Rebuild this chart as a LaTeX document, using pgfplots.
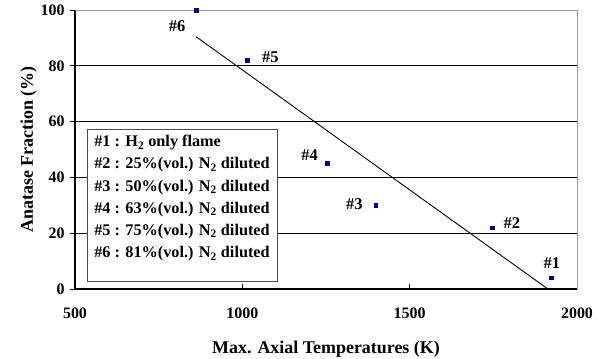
\documentclass[border=0pt]{standalone}
\usepackage{pgfplots}
\pgfplotsset{compat=1.18}
\usepackage{fontspec}
\setmainfont{Liberation Serif}
\definecolor{navy}{RGB}{0,0,128}
\begin{document}
\begin{tikzpicture}[x=1bp,y=1bp]
\path[use as bounding box] (0,0) rectangle (607,358);
\begin{axis}[
  at={(75bp,69bp)}, anchor=south west,
  scale only axis, width=502bp, height=279bp,
  xmin=500, xmax=2000, ymin=0, ymax=100,
  axis x line*=bottom, axis y line*=left,
  axis line style={black, line width=1.1pt, -},
  xtick={500,1000,1500,2000}, ytick={0,20,40,60,80,100},
  x tick label style={font=\bfseries\fontsize{16}{18}\selectfont, yshift=-15bp},
  y tick label style={font=\bfseries\fontsize{16}{18}\selectfont, xshift=-2bp},
  /pgf/number format/assume math mode=true,
  /pgf/number format/set thousands separator={},
  xtick align=inside, ytick align=outside,
  major tick length=5bp,
  tick style={black, line width=0.8pt},
  ymajorgrids, major grid style={black, line width=0.6pt},
  xlabel={Max. Axial Temperatures (K)},
  ylabel={Anatase Fraction (\%)},
  label style={font=\bfseries\fontsize{18}{20}\selectfont},
  xlabel style={yshift=-16bp},
  ylabel style={yshift=-3bp},
  clip=false,
]
\draw[gray!80, line width=0.6pt] (axis cs:500,100) -- (axis cs:2000,100) -- (axis cs:2000,0);
\addplot[only marks, mark=square*, mark size=1.8bp, navy] coordinates {
 (862,100) (1015,82) (1254,45) (1398,30) (1746,22) (1922,4)
};
\addplot[black, line width=0.9pt, no marks] coordinates {(862,90.4) (1913,0)};
\begin{scope}[every node/.style={font=\bfseries\fontsize{16.5}{18}\selectfont}]
\node at (axis cs:805,94.3) {\#6};
\node at (axis cs:1084,83) {\#5};
\node at (axis cs:1201,48) {\#4};
\node at (axis cs:1335,30.5) {\#3};
\node at (axis cs:1805,23.7) {\#2};
\node at (axis cs:1925,9.3) {\#1};
\end{scope}
\node[draw=black!70, line width=0.6pt, fill=white, anchor=north west, inner sep=0pt,
  minimum width=190bp, minimum height=152bp]
  at (axis cs:536,57.3) {\parbox[t][152bp][t]{190bp}{\raggedright
  \fontsize{16.3}{22.2}\bfseries\selectfont\leftskip=7bp\vspace*{6bp}%
  \#1 : H\textsubscript{2} only flame\\
  \#2 : 25\%(vol.) N\textsubscript{2} diluted\\
  \#3 : 50\%(vol.) N\textsubscript{2} diluted\\
  \#4 : 63\%(vol.) N\textsubscript{2} diluted\\
  \#5 : 75\%(vol.) N\textsubscript{2} diluted\\
  \#6 : 81\%(vol.) N\textsubscript{2} diluted\par}};
\end{axis}
\end{tikzpicture}
\end{document}
